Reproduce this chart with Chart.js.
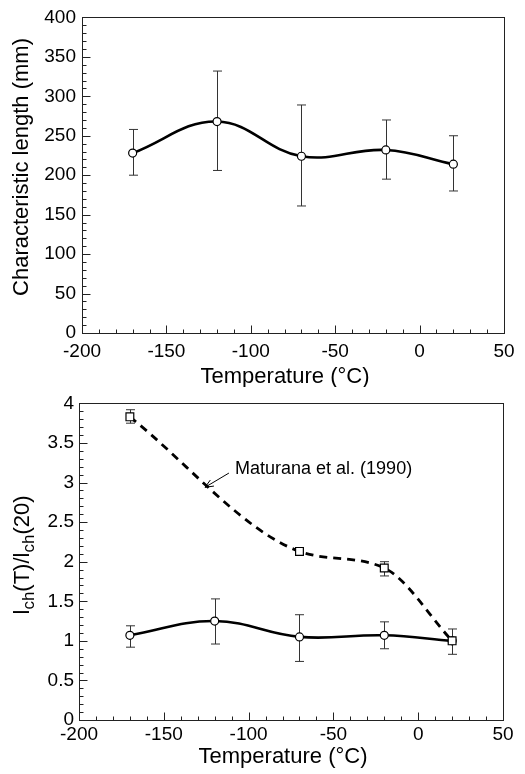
<!DOCTYPE html>
<html>
<head>
<meta charset="utf-8">
<script src="https://cdn.jsdelivr.net/npm/chart.js@4.4.1/dist/chart.umd.min.js"></script>
<style>
  body { margin: 0; background: #fff; }
  .panel { position: absolute; left: 0; width: 525px; height: 387px; }
</style>
</head>
<body>
<div class="panel" style="top:0"><canvas id="lengthChart" width="525" height="387"></canvas></div>
<div class="panel" style="top:387px"><canvas id="ratioChart" width="525" height="387"></canvas></div>
<script>
// temperatures of the tests (°C)
const temps = [-170, -120, -70, -20, 20];

// characteristic length (mm), mean and error bar ends
const lengthMean = [228, 268, 224, 232, 214];
const lengthHigh = [258, 332, 289, 270, 250];
const lengthLow = [200, 206, 161, 195, 180];

// normalised characteristic length lch(T)/lch(20)
const ratioMean = [1.07, 1.25, 1.05, 1.07, 1.0];
const ratioHigh = [1.19, 1.53, 1.33, 1.24, 1.15];
const ratioLow = [0.92, 0.96, 0.74, 0.90, 0.83];

// Maturana et al. (1990)
const maturanaTemps = [-170, -70, -20, 20];
const maturanaMean = [3.83, 2.13, 1.92, 1.0];
const maturanaHigh = [3.92, 2.16, 2.0, 1.0];
const maturanaLow = [3.75, 2.10, 1.82, 1.0];

// axis ranges and tick steps
const xRange = [-200, 50];
const xStep = 50;
const lengthRange = [0, 400];
const lengthStep = 50;
const ratioRange = [0, 4];
const ratioStep = 0.5;

const FONT = '"Liberation Sans", Arial, Helvetica, sans-serif';
Chart.defaults.font.family = FONT;
Chart.defaults.color = '#000';

const toPoints = (xs, ys) => xs.map((x, i) => ({ x, y: ys[i] }));

// frame, inward minor ticks, error bars, titles and the arrow note
const framePlugin = {
  id: 'frame',
  beforeDatasetsDraw(chart, args, opts) {
    const { ctx, scales: { x, y } } = chart;
    ctx.save();
    ctx.strokeStyle = '#333';
    ctx.lineWidth = 1;
    (opts.errorBars || []).forEach((bar) => {
      bar.xs.forEach((t, i) => {
        const px = Math.round(x.getPixelForValue(t)) + 0.5;
        const top = y.getPixelForValue(bar.high[i]);
        const bot = y.getPixelForValue(bar.low[i]);
        if (Math.abs(bot - top) < 1) return;
        ctx.beginPath();
        ctx.moveTo(px, top); ctx.lineTo(px, bot);
        ctx.moveTo(px - 4.5, top); ctx.lineTo(px + 4.5, top);
        ctx.moveTo(px - 4.5, bot); ctx.lineTo(px + 4.5, bot);
        ctx.stroke();
      });
    });
    ctx.restore();
  },
  afterDraw(chart, args, opts) {
    const { ctx, chartArea: a, scales: { x, y } } = chart;
    ctx.save();
    ctx.strokeStyle = '#222';
    ctx.lineWidth = 1;
    ctx.strokeRect(Math.round(a.left) + 0.5, Math.round(a.top) + 0.5,
      Math.round(a.right - a.left), Math.round(a.bottom - a.top));

    ctx.beginPath();
    const xb = Math.round(a.bottom) + 0.5;
    for (let v = x.min + opts.xMinor; v < x.max - 1e-9; v += opts.xMinor) {
      const px = Math.round(x.getPixelForValue(v)) + 0.5;
      const major = Math.abs(v / opts.xMajor - Math.round(v / opts.xMajor)) < 1e-6;
      ctx.moveTo(px, xb); ctx.lineTo(px, xb - (major ? 8 : 4));
    }
    const yl = Math.round(a.left) + 0.5;
    for (let v = y.min + opts.yMinor; v < y.max - 1e-9; v += opts.yMinor) {
      const py = Math.round(y.getPixelForValue(v)) + 0.5;
      const major = Math.abs(v / opts.yMajor - Math.round(v / opts.yMajor)) < 1e-6;
      ctx.moveTo(yl, py); ctx.lineTo(yl + (major ? 8 : 4), py);
    }
    ctx.stroke();

    ctx.fillStyle = '#000';
    ctx.textAlign = 'center';
    ctx.textBaseline = 'middle';
    ctx.font = `22px ${FONT}`;
    ctx.fillText('Temperature (°C)', opts.xTitleX, opts.xTitleY);

    // y title built from parts so subscripts can be lowered
    ctx.translate(opts.yTitleX, opts.yTitleY);
    ctx.rotate(-Math.PI / 2);
    ctx.textAlign = 'left';
    const fontFor = (p) => (p.sub ? `17px ${FONT}` : `22px ${FONT}`);
    let total = 0;
    opts.yTitle.forEach((p) => { ctx.font = fontFor(p); total += ctx.measureText(p.text).width; });
    let cx = -total / 2;
    opts.yTitle.forEach((p) => {
      ctx.font = fontFor(p);
      ctx.fillText(p.text, cx, p.sub ? 6 : 0);
      cx += ctx.measureText(p.text).width;
    });
    ctx.setTransform(1, 0, 0, 1, 0, 0);

    if (opts.note) {
      const n = opts.note;
      ctx.font = `18px ${FONT}`;
      ctx.textAlign = 'left';
      ctx.fillText(n.text, x.getPixelForValue(n.x), y.getPixelForValue(n.y));
      const x0 = x.getPixelForValue(n.fromX), y0 = y.getPixelForValue(n.fromY);
      const x1 = x.getPixelForValue(n.toX), y1 = y.getPixelForValue(n.toY);
      const ang = Math.atan2(y1 - y0, x1 - x0);
      ctx.strokeStyle = '#000';
      ctx.lineWidth = 1;
      ctx.beginPath();
      ctx.moveTo(x0, y0); ctx.lineTo(x1, y1);
      [0.4, -0.4].forEach((d) => {
        ctx.moveTo(x1, y1);
        ctx.lineTo(x1 - 9 * Math.cos(ang + d), y1 - 9 * Math.sin(ang + d));
      });
      ctx.stroke();
    }
    ctx.restore();
  },
};

const buildOptions = (cfg) => ({
  responsive: false,
  animation: false,
  layout: { padding: { top: cfg.padTop, right: cfg.padRight, left: 0, bottom: 0 } },
  plugins: {
    legend: { display: false },
    tooltip: { enabled: false },
    frame: cfg.frame,
  },
  scales: {
    x: {
      type: 'linear',
      min: xRange[0],
      max: xRange[1],
      grid: { display: false, drawTicks: false },
      border: { display: false },
      ticks: { stepSize: xStep, padding: cfg.xPad, font: { size: 19 }, color: '#000', maxRotation: 0 },
      afterFit: (s) => { s.height = 387 - 333; },
    },
    y: {
      min: cfg.yRange[0],
      max: cfg.yRange[1],
      grid: { display: false, drawTicks: false },
      border: { display: false },
      ticks: {
        stepSize: cfg.yStep, padding: cfg.yPad, font: { size: 19 }, color: '#000',
        callback: (v) => String(Number(v.toFixed(2))),
      },
      afterFit: (s) => { s.width = cfg.yWidth; },
    },
  },
});

const solidLine = (data) => ({
  data,
  borderColor: '#000',
  borderWidth: 2.6,
  tension: 0.4,
  pointStyle: 'circle',
  pointRadius: 4,
  pointBackgroundColor: '#fff',
  pointBorderColor: '#000',
  pointBorderWidth: 1.2,
});

new Chart(document.getElementById('lengthChart'), {
  type: 'line',
  data: { datasets: [solidLine(toPoints(temps, lengthMean))] },
  options: buildOptions({
    padTop: 17, padRight: 21, yWidth: 82, xPad: 7, yPad: 6,
    yRange: lengthRange, yStep: lengthStep,
    frame: {
      xMinor: 10, xMajor: 50, yMinor: 10, yMajor: 50,
      errorBars: [{ xs: temps, high: lengthHigh, low: lengthLow }],
      xTitleX: 285, xTitleY: 377,
      yTitleX: 22, yTitleY: 167,
      yTitle: [{ text: 'Characteristic length (mm)' }],
    },
  }),
  plugins: [framePlugin],
});

new Chart(document.getElementById('ratioChart'), {
  type: 'line',
  data: {
    datasets: [
      {
        data: toPoints(maturanaTemps, maturanaMean),
        borderColor: '#000',
        borderWidth: 2.8,
        borderDash: [8, 6],
        cubicInterpolationMode: 'monotone',
        pointStyle: 'rect',
        pointRadius: 5.5,
        pointBackgroundColor: '#fff',
        pointBorderColor: '#000',
        pointBorderWidth: 1.2,
      },
      solidLine(toPoints(temps, ratioMean)),
    ],
  },
  options: buildOptions({
    padTop: 15, padRight: 22, yWidth: 79, xPad: 3, yPad: 5,
    yRange: ratioRange, yStep: ratioStep,
    frame: {
      xMinor: 10, xMajor: 50, yMinor: 0.1, yMajor: 0.5,
      errorBars: [
        { xs: maturanaTemps, high: maturanaHigh, low: maturanaLow },
        { xs: temps, high: ratioHigh, low: ratioLow },
      ],
      xTitleX: 283, xTitleY: 370,
      yTitleX: 23, yTitleY: 168,
      yTitle: [
        { text: 'l' }, { text: 'ch', sub: true }, { text: '(T)/' },
        { text: 'l' }, { text: 'ch', sub: true }, { text: '(20)' },
      ],
      note: {
        text: 'Maturana et al. (1990)', x: -108, y: 3.17,
        fromX: -111.6, fromY: 3.12, toX: -125.7, toY: 2.94,
      },
    },
  }),
  plugins: [framePlugin],
});
</script>
</body>
</html>
